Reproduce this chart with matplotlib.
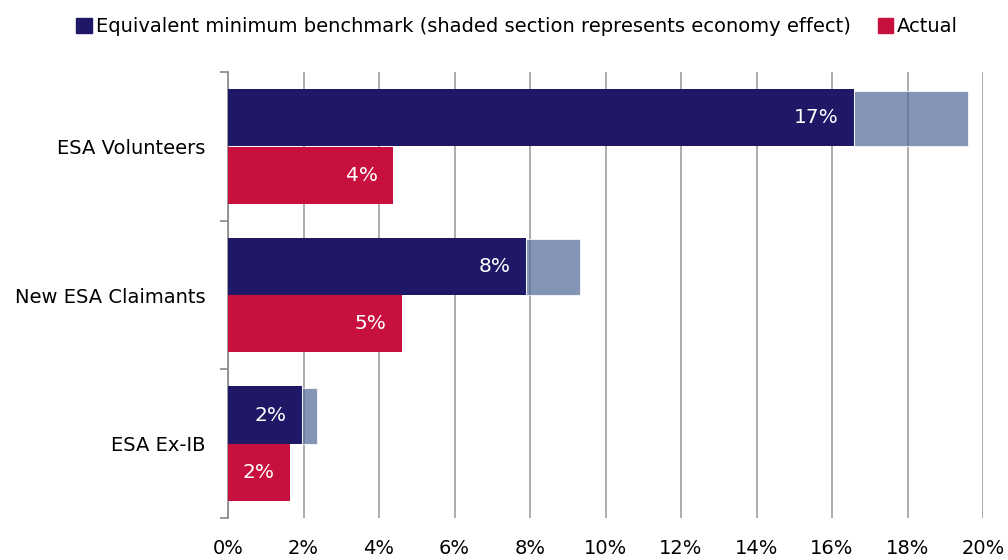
import matplotlib
matplotlib.use("Agg")
import matplotlib.pyplot as plt
import matplotlib.ticker as mtick
from matplotlib.patches import Patch
import numpy as np

plt.rcParams['font.family'] = ['DejaVu Sans']

# Значения в процентах
groups = ['ESA Volunteers', 'New ESA Claimants', 'ESA Ex-IB']
benchmark = [16.58, 7.89, 1.96]        # эквивалентный минимальный бенчмарк
economy = [3.02, 1.43, 0.40]           # затенённая часть: эффект экономики
actual = [4.37, 4.61, 1.64]            # фактические значения
xticks = list(range(0, 21, 2))

navy = '#1E1866'
shade = (0.33, 0.42, 0.60)
red = '#C8103F'
grid_c = '#A6A6A6'

fig = plt.figure(figsize=(10.08, 5.6), dpi=100)
ax = fig.add_axes([0.2262, 0.075, 0.7490, 0.796])

y = np.arange(len(groups))
h = 0.385
off = 0.193

ax.barh(y - off, benchmark, height=h, color=navy, zorder=3)
ax.barh(y - off + 0.005, economy, left=benchmark, height=h - 0.01, color=shade,
        alpha=0.72, edgecolor='white', linewidth=0.8, zorder=4)
ax.barh(y + off, actual, height=h, color=red, zorder=3)

# Подписи внутри столбцов
for yi, v in zip(y - off, benchmark):
    ax.annotate('%.0f%%' % v, (v, yi), xytext=(-11, 0), textcoords='offset points',
                ha='right', va='center', color='white', fontsize=14.5, zorder=5)
for yi, v in zip(y + off, actual):
    ax.annotate('%.0f%%' % v, (v, yi), xytext=(-11, 0), textcoords='offset points',
                ha='right', va='center', color='white', fontsize=14.5, zorder=5)

ax.set_xlim(0, 20)
ax.set_ylim(2.5, -0.5)
ax.set_xticks(xticks)
ax.xaxis.set_major_formatter(mtick.FormatStrFormatter('%d%%'))
ax.tick_params(axis='x', length=0, pad=15, labelsize=14)
ax.xaxis.grid(True, color=grid_c, linewidth=1.3, zorder=0)

# Категории: подписи по центру, засечки на границах групп
ax.set_yticks([-0.5, 0.5, 1.5, 2.5])
ax.set_yticklabels([])
ax.set_yticks(y, minor=True)
ax.set_yticklabels(groups, minor=True, fontsize=14)
ax.tick_params(axis='y', which='major', length=6, color='#888888', width=1.2)
ax.tick_params(axis='y', which='minor', length=0, pad=16)

for s in ['top', 'right', 'bottom']:
    ax.spines[s].set_visible(False)
ax.spines['left'].set_color('#888888')
ax.spines['left'].set_linewidth(1.2)

handles = [Patch(color=navy), Patch(color=red)]
fig.legend(handles, ['Equivalent minimum benchmark (shaded section represents economy effect)', 'Actual'],
           loc='upper center', bbox_to_anchor=(0.513, 1.0), ncol=2, frameon=False,
           fontsize=14, handlelength=0.8, handleheight=0.8, handletextpad=0.2,
           columnspacing=1.4)

fig.savefig('out.png', dpi=100)
